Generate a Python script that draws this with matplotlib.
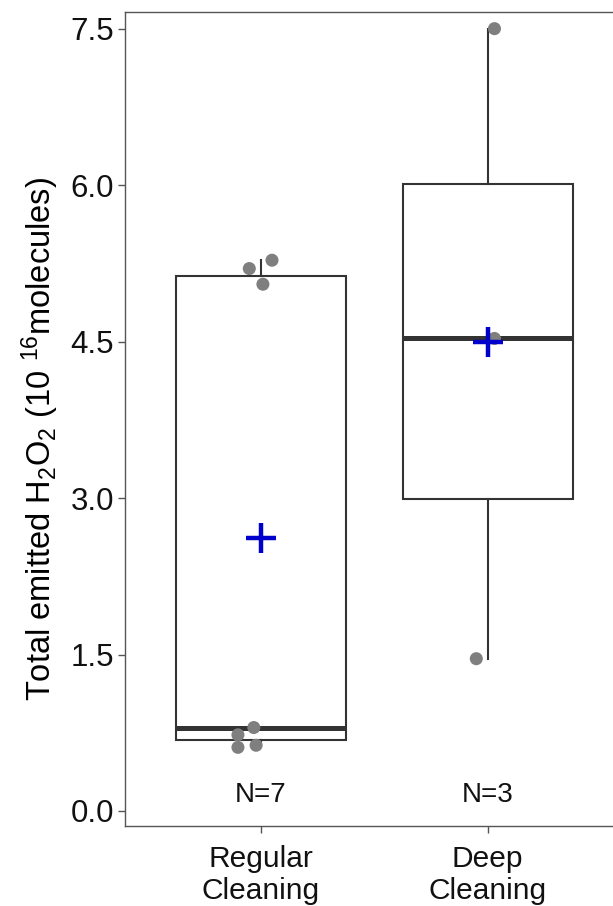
import matplotlib
matplotlib.use("Agg")
import matplotlib.pyplot as plt
import numpy as np

plt.rcParams['font.family'] = ['Liberation Sans', 'DejaVu Sans']
plt.rcParams['mathtext.fontset'] = 'custom'
plt.rcParams['mathtext.rm'] = 'Liberation Sans'
plt.rcParams['mathtext.it'] = 'Liberation Sans'

groups = ["Regular\nCleaning", "Deep\nCleaning"]
regular = [5.28, 5.20, 5.05, 0.80, 0.73, 0.61, 0.63]
deep = [7.50, 4.53, 1.46]
# horizontal jitter of the dots (in category units)
regular_jit = [0.05, -0.05, 0.01, -0.03, -0.10, -0.10, -0.02]
deep_jit = [0.03, 0.03, -0.05]

data = [regular, deep]
jitter = [regular_jit, deep_jit]

fig = plt.figure(figsize=(6.13, 9.06), dpi=100)
# panel runs off the right edge of the figure
ax = fig.add_axes([0.204, 0.0883, 0.81, 0.8985])

edge = '#333333'
for i, vals in enumerate(data):
    pos = i + 1
    v = np.array(vals)
    q1, med, q3 = np.percentile(v, [25, 50, 75])
    iqr = q3 - q1
    lo = v[v >= q1 - 1.5 * iqr].min()
    hi = v[v <= q3 + 1.5 * iqr].max()
    w = 0.375
    ax.add_patch(plt.Rectangle((pos - w, q1), 2 * w, q3 - q1, fill=False,
                               edgecolor=edge, lw=1.5, zorder=2))
    ax.plot([pos - w, pos + w], [med, med], color=edge, lw=3.6, zorder=3,
            solid_capstyle='butt')
    ax.plot([pos, pos], [q3, hi], color=edge, lw=1.5, zorder=2)
    ax.plot([pos, pos], [lo, q1], color=edge, lw=1.5, zorder=2)
    ax.scatter(pos + np.array(jitter[i]), v, s=88, color='#7f7f7f',
               edgecolors='none', zorder=4)
    ax.plot(pos, v.mean(), marker='+', markersize=21, mew=3.2,
            color='#0000cc', zorder=5)
    ax.text(pos, 0.15, "N=%d" % len(v), ha='center', va='center',
            fontsize=20, color='#111111')

ax.set_xlim(0.4027, 2.59)
ax.set_ylim(-0.144, 7.66)
ax.set_xticks([1, 2])
ax.set_xticklabels(groups, fontsize=21.5, color='#111111', linespacing=1.15)
ax.set_yticks([0.0, 1.5, 3.0, 4.5, 6.0, 7.5])
ax.set_yticklabels(["0.0", "1.5", "3.0", "4.5", "6.0", "7.5"], fontsize=22.5,
                   color='#111111')
ax.tick_params(length=5, width=1, color='#555555', pad=3)
ax.tick_params(axis='x', pad=9)
for s in ax.spines.values():
    s.set_color('#555555')
    s.set_linewidth(1)
ax.set_ylabel(r"Total emitted H$_2$O$_2$ (10 $^{16}$molecules)", fontsize=23.5)
ax.yaxis.set_label_coords(-0.13, 0.475)

fig.savefig("out.png", dpi=100)
